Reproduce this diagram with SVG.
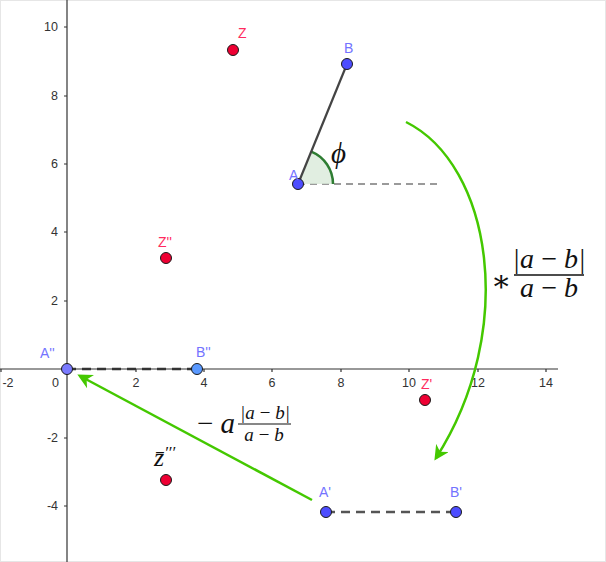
<svg xmlns="http://www.w3.org/2000/svg" width="606" height="562" viewBox="0 0 606 562">
<defs>
<style>
.ax{stroke:#333;stroke-width:1.2;fill:none}
.tk{font-family:"Liberation Sans",Arial,sans-serif;font-size:12.5px;fill:#333}
.pt{stroke:#1a1a1a;stroke-width:1}
.bl{fill:#4d4dff}
.rd{fill:#ee0033}
.lb{font-family:"Liberation Sans",Arial,sans-serif;font-size:14px;fill:#7373ff}
.lr{font-family:"Liberation Sans",Arial,sans-serif;font-size:14px;fill:#ff2b5e}
.mt{font-family:"Liberation Serif","DejaVu Serif",serif;font-style:italic;fill:#111}
.mr{font-family:"Liberation Serif","DejaVu Serif",serif;fill:#111}
.gr{stroke:#44c800;stroke-width:2.5;fill:none}
</style>
<marker id="ah" viewBox="0 0 10 10" refX="8" refY="5" markerWidth="6" markerHeight="6" orient="auto" markerUnits="strokeWidth">
<path d="M0,0 L10,5 L0,10 L3,5 Z" fill="#44c800"/>
</marker>
</defs>
<rect x="0.5" y="0.5" width="605" height="561" fill="#fff" stroke="#e6e6e6"/>
<g id="axes">
<line class="ax" x1="0" y1="369" x2="558" y2="369"/>
<line class="ax" x1="67" y1="0" x2="67" y2="562"/>
<path class="ax" d="M1,369v3 M136,369v3 M204,369v3 M272,369v3 M341,369v3 M409,369v3 M478,369v3 M546,369v3"/>
<path class="ax" d="M64,27h3 M64,96h3 M64,164h3 M64,232h3 M64,301h3 M64,438h3 M64,506h3"/>
<g class="tk" text-anchor="middle">
<text x="8" y="387">-2</text>
<text x="136" y="387">2</text>
<text x="204" y="387">4</text>
<text x="272" y="387">6</text>
<text x="341" y="387">8</text>
<text x="409" y="387">10</text>
<text x="478" y="387">12</text>
<text x="546" y="387">14</text>
</g>
<g class="tk" text-anchor="end">
<text x="59" y="387">0</text>
<text x="58" y="31">10</text>
<text x="58" y="100">8</text>
<text x="58" y="168">6</text>
<text x="58" y="236">4</text>
<text x="58" y="305">2</text>
<text x="58" y="442">-2</text>
<text x="58" y="510">-4</text>
</g>
</g>
<g id="connectors">
<line x1="298" y1="184" x2="440" y2="184" stroke="#9a9a9a" stroke-width="2" stroke-dasharray="7,5"/>
<path d="M298,184 L333,184 A35,35 0 0 0 311.3,151.6 Z" fill="#d9ead9" fill-opacity="0.8" stroke="none"/>
<path d="M333,184 A35,35 0 0 0 311.3,151.6" fill="none" stroke="#2e7d32" stroke-width="2.5"/>
<line x1="298" y1="184" x2="347" y2="64" stroke="#444" stroke-width="2.2"/>
<line x1="67" y1="369" x2="197" y2="369" stroke="#333" stroke-width="2.5" stroke-dasharray="9,6"/>
<line x1="326" y1="512" x2="456" y2="512" stroke="#555" stroke-width="2.5" stroke-dasharray="9,6"/>
<path class="gr" d="M406,122 C492,165 518,330 436,458" marker-end="url(#ah)"/>
<line class="gr" x1="312" y1="500" x2="80" y2="376" marker-end="url(#ah)"/>
</g>
<g id="A"><circle class="pt bl" cx="298" cy="184" r="5.5"/><text class="lb" x="289" y="180">A</text></g>
<g id="B"><circle class="pt bl" cx="347" cy="64" r="5.5"/><text class="lb" x="344" y="53">B</text></g>
<g id="Z"><circle class="pt rd" cx="233" cy="50" r="5.5"/><text class="lr" x="238" y="38">Z</text></g>
<g id="Z2"><circle class="pt rd" cx="166" cy="258" r="5.5"/><text class="lr" x="158" y="247">Z''</text></g>
<g id="A2"><circle class="pt" fill="#7a7aff" cx="67" cy="369" r="5.5"/><text class="lb" x="40" y="358">A''</text></g>
<g id="B2"><circle class="pt" fill="#5a99ff" cx="197" cy="369" r="5.5"/><text class="lb" x="196" y="357">B''</text></g>
<g id="Z1"><circle class="pt rd" cx="425" cy="400" r="5.5"/><text class="lr" x="421" y="389">Z'</text></g>
<g id="Z3"><circle class="pt rd" cx="166" cy="480" r="5.5"/><text class="mt" x="154" y="466" font-size="26">z̄<tspan font-size="17" dy="-8">′′′</tspan></text></g>
<g id="A1"><circle class="pt bl" cx="326" cy="512" r="5.5"/><text class="lb" x="319" y="497">A'</text></g>
<g id="B1"><circle class="pt bl" cx="456" cy="512" r="5.5"/><text class="lb" x="450" y="497">B'</text></g>
<g id="phi"><text class="mt" x="331" y="163" font-size="29">ϕ</text></g>
<g id="label-mult">
<text class="mr" x="491" y="291" font-size="30">∗</text>
<text class="mt" x="549" y="268" font-size="28" text-anchor="middle">|a&#8201;−&#8201;b|</text>
<line x1="514" y1="275" x2="584" y2="275" stroke="#111" stroke-width="1.4"/>
<text class="mt" x="549" y="297" font-size="28" text-anchor="middle">a&#8201;−&#8201;b</text>
</g>
<g id="label-sub">
<text class="mt" x="195" y="433" font-size="29">−&#8201;a</text>
<text class="mt" x="265" y="419" font-size="19" text-anchor="middle">|a&#8201;−&#8201;b|</text>
<line x1="238" y1="424" x2="291" y2="424" stroke="#111" stroke-width="1.1"/>
<text class="mt" x="264" y="441" font-size="19" text-anchor="middle">a&#8201;−&#8201;b</text>
</g>
</svg>
